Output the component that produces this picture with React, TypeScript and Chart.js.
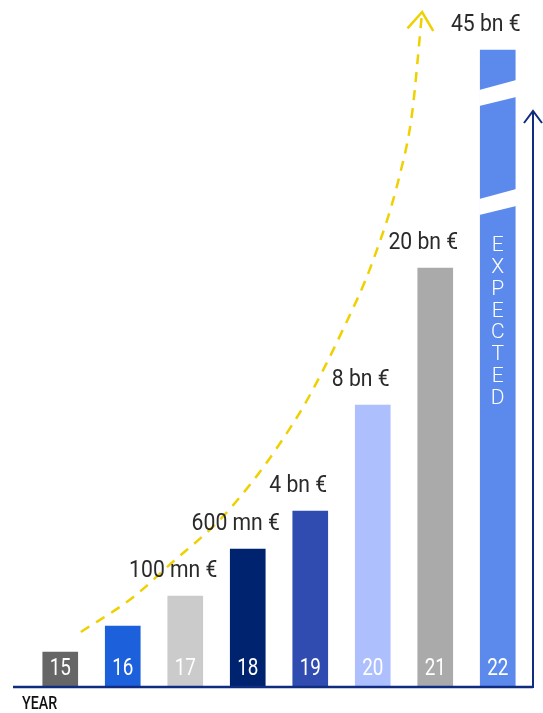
import React, { useEffect, useRef } from "react";
import { Chart, registerables } from "chart.js";

Chart.register(...registerables);

const years = ["15", "16", "17", "18", "19", "20", "21", "22"];
// displayed bar heights (drawing units, not proportional to the money values)
const barHeights = [34, 60, 90, 137, 175, 281, 418, 636];
const valueLabels = ["", "", "100 mn €", "600 mn €", "4 bn €", "8 bn €", "20 bn €", "45 bn €"];
const barColors = ["#666666", "#1c60db", "#cbcbcb", "#00236f", "#314cb1", "#adc0fd", "#aaaaaa", "#5c8aec"];
// yellow growth curve (x in category index units, y in drawing units)
const curveX = [0.33, 1.15, 1.8, 2.52, 3.07, 3.52, 3.95, 4.52, 4.99, 5.44, 5.63, 5.79];
const curveY = [54, 88, 124, 164, 204, 243, 286, 356, 423, 513, 573, 674];
const expectedText = "EXPECTED";
const axisTitle = "YEAR";
const axisArrowTop = 575;

const NAVY = "#0f2c80";
const YELLOW = "#efd000";

function drawScaled(ctx: CanvasRenderingContext2D, text: string, x: number, y: number, sx: number) {
  ctx.save();
  ctx.translate(x, y);
  ctx.scale(sx, 1);
  ctx.fillText(text, 0, 0);
  ctx.restore();
}

const decor = {
  id: "decor",
  afterDatasetsDraw(chart: any) {
    const ctx: CanvasRenderingContext2D = chart.ctx;
    const { left, right, bottom } = chart.chartArea;
    const yScale = chart.scales.y;
    const bars = chart.getDatasetMeta(0).data;

    // breaks in the last bar
    const last = bars[bars.length - 1];
    if (last) {
      const xl = last.x - last.width / 2 - 1;
      const xr = last.x + last.width / 2 + 1;
      const t = last.y;
      ctx.save();
      ctx.fillStyle = "#ffffff";
      const gaps = [
        [40, 30],
        [149, 139],
      ];
      gaps.forEach(([gl, gr]) => {
        ctx.beginPath();
        ctx.moveTo(xl, t + gl);
        ctx.lineTo(xr, t + gr);
        ctx.lineTo(xr, t + gr + 17);
        ctx.lineTo(xl, t + gl + 16);
        ctx.closePath();
        ctx.fill();
      });
      // EXPECTED vertical letters
      ctx.fillStyle = "#ffffff";
      ctx.font = "300 21px Roboto";
      ctx.textAlign = "center";
      ctx.textBaseline = "middle";
      for (let i = 0; i < expectedText.length; i++) {
        ctx.fillText(expectedText[i], last.x, t + 196 + i * 21.8);
      }
      ctx.restore();
    }

    // year labels inside bars and value labels above
    ctx.save();
    ctx.textAlign = "center";
    ctx.textBaseline = "middle";
    bars.forEach((b: any, i: number) => {
      ctx.fillStyle = "#ffffff";
      ctx.font = "400 23px Roboto";
      drawScaled(ctx, years[i], b.x, bottom - 17, 0.82);
      if (valueLabels[i]) {
        ctx.fillStyle = "#2a2a2a";
        ctx.font = "400 23px Roboto";
        drawScaled(ctx, valueLabels[i], b.x - 12, b.y - 25, 0.92);
      }
    });
    ctx.restore();

    // axis frame
    ctx.save();
    ctx.strokeStyle = NAVY;
    ctx.lineWidth = 2.5;
    ctx.beginPath();
    ctx.moveTo(left - 16, bottom + 1);
    ctx.lineTo(right + 4, bottom + 1);
    ctx.stroke();
    const ax = right + 4;
    const ay = yScale.getPixelForValue(axisArrowTop);
    ctx.lineWidth = 2;
    ctx.beginPath();
    ctx.moveTo(ax, bottom + 2);
    ctx.lineTo(ax, ay);
    ctx.stroke();
    ctx.beginPath();
    ctx.moveTo(ax - 9, ay + 12);
    ctx.lineTo(ax, ay);
    ctx.lineTo(ax + 9, ay + 12);
    ctx.stroke();
    ctx.restore();

    // YEAR title
    ctx.save();
    ctx.fillStyle = "#111111";
    ctx.font = "500 19px Roboto";
    ctx.textAlign = "left";
    ctx.textBaseline = "middle";
    drawScaled(ctx, axisTitle, left - 7, bottom + 18, 0.75);
    ctx.restore();

    // yellow arrowhead at end of curve
    const lineMeta = chart.getDatasetMeta(1).data;
    const n = lineMeta.length;
    if (n > 1) {
      const tip = lineMeta[n - 1];
      const prev = lineMeta[n - 2];
      let bx = prev.x - tip.x;
      let by = prev.y - tip.y;
      const len = Math.hypot(bx, by);
      bx /= len;
      by /= len;
      const th = (36 * Math.PI) / 180;
      const c = Math.cos(th), s = Math.sin(th);
      const L = 22;
      ctx.save();
      ctx.strokeStyle = YELLOW;
      ctx.lineWidth = 2.5;
      ctx.beginPath();
      ctx.moveTo(tip.x + (bx * c - by * s) * L, tip.y + (bx * s + by * c) * L);
      ctx.lineTo(tip.x, tip.y);
      ctx.lineTo(tip.x + (bx * c + by * s) * L, tip.y + (-bx * s + by * c) * L);
      ctx.stroke();
      ctx.restore();
    }
  },
};

export default function App() {
  const ref = useRef<HTMLCanvasElement | null>(null);
  useEffect(() => {
    if (!ref.current) return;
    const chart = new Chart(ref.current, {
      type: "bar",
      data: {
        labels: years,
        datasets: [
          {
            type: "bar",
            data: barHeights,
            backgroundColor: barColors,
            grouped: false,
            maxBarThickness: 35,
            barPercentage: 1,
            categoryPercentage: 1,
            borderWidth: 0,
          } as any,
          {
            type: "line",
            xAxisID: "xc",
            data: curveX.map((x, i) => ({ x, y: curveY[i] })),
            borderColor: YELLOW,
            borderWidth: 2.5,
            borderDash: [10, 8],
            pointRadius: 0,
            cubicInterpolationMode: "monotone",
            fill: false,
            clip: false,
          } as any,
        ],
      },
      options: {
        responsive: false,
        animation: false,
        layout: { padding: { left: 29, right: 14, top: 6, bottom: 27 } },
        plugins: { legend: { display: false }, tooltip: { enabled: false } },
        scales: {
          x: { type: "category", display: false, offset: true },
          xc: { type: "linear", display: false, offset: false, bounds: "data", min: -0.5, max: 7.5 },
          y: { type: "linear", display: false, min: 0, max: 680 },
        },
      } as any,
      plugins: [decor],
    });
    return () => chart.destroy();
  }, []);
  return (
    <div style={{ position: "fixed", left: 0, top: 0, width: 543, height: 713, background: "#ffffff" }}>
      <canvas ref={ref} width={543} height={713} style={{ display: "block" }} />
    </div>
  );
}
